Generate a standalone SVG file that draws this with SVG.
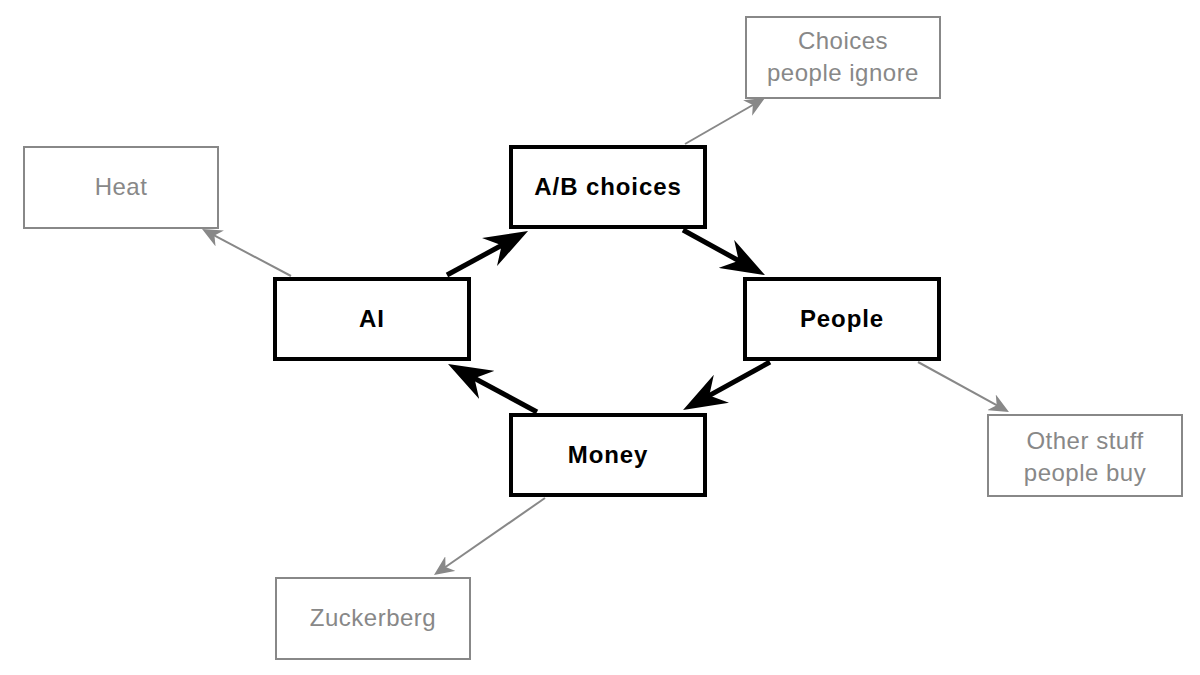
<svg xmlns="http://www.w3.org/2000/svg" width="1200" height="675" viewBox="0 0 1200 675">
<style>
.main rect{fill:#fff;stroke:#000;stroke-width:4}
.side rect{fill:#fff;stroke:#888;stroke-width:2}
.main text{font-family:"Liberation Sans",Arial,sans-serif;font-weight:bold;font-size:24px;fill:#000;text-anchor:middle;letter-spacing:0.9px}
.side text{font-family:"Liberation Sans",Arial,sans-serif;font-size:24px;fill:#888;text-anchor:middle;letter-spacing:0.5px}
.bk{stroke:#000;stroke-width:5;fill:none;marker-end:url(#ab)}
.gr{stroke:#888;stroke-width:2;fill:none;marker-end:url(#ag)}
</style>
<defs>
<marker id="ab" markerUnits="userSpaceOnUse" viewBox="0 0 44 32" refX="22" refY="16" markerWidth="44" markerHeight="32" orient="auto">
<path d="M44,16 L0,0 L14,16 L0,32 Z" fill="#000"/>
</marker>
<marker id="ag" markerUnits="userSpaceOnUse" viewBox="0 0 20 18" refX="10" refY="9" markerWidth="20" markerHeight="18" orient="auto">
<path d="M20,9 L0,0 L6,9 L0,18 Z" fill="#888"/>
</marker>
</defs>
<rect width="1200" height="675" fill="#fff"/>
<g id="connectors">
<line class="bk" x1="447" y1="275" x2="508.7" y2="241.5"/>
<line class="bk" x1="683" y1="230" x2="745.7" y2="264.5"/>
<line class="bk" x1="770" y1="362" x2="702.3" y2="399.4"/>
<line class="bk" x1="537" y1="412" x2="467.4" y2="374.5"/>
<line class="gr" x1="685" y1="144" x2="756.3" y2="103"/>
<line class="gr" x1="291" y1="276" x2="210.9" y2="233.7"/>
<line class="gr" x1="918" y1="362" x2="1000.2" y2="407.2"/>
<line class="gr" x1="545" y1="498" x2="442.2" y2="569.3"/>
</g>
<g id="ab-choices" class="main"><rect x="511" y="147" width="194" height="80"/><text x="608" y="195">A/B choices</text></g>
<g id="ai" class="main"><rect x="275" y="279" width="194" height="80"/><text x="372" y="327">AI</text></g>
<g id="people" class="main"><rect x="745" y="279" width="194" height="80"/><text x="842" y="327">People</text></g>
<g id="money" class="main"><rect x="511" y="415" width="194" height="80"/><text x="608" y="463">Money</text></g>
<g id="choices-ignore" class="side"><rect x="746" y="17" width="194" height="81"/><text x="843" y="49">Choices</text><text x="843" y="81">people ignore</text></g>
<g id="heat" class="side"><rect x="24" y="147" width="194" height="81"/><text x="121" y="195">Heat</text></g>
<g id="other-stuff" class="side"><rect x="988" y="415" width="194" height="81"/><text x="1085" y="449">Other stuff</text><text x="1085" y="481">people buy</text></g>
<g id="zuckerberg" class="side"><rect x="276" y="578" width="194" height="81"/><text x="373" y="626">Zuckerberg</text></g>
</svg>
